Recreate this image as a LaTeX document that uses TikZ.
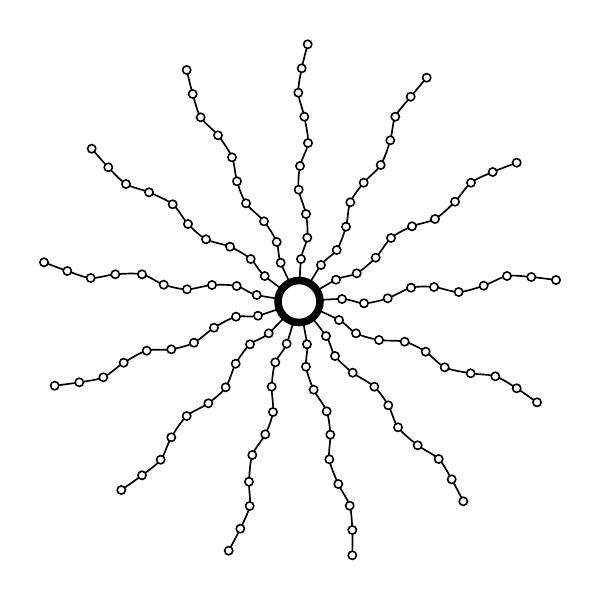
\documentclass[tikz,border=0pt]{standalone}
\usepackage{tikz}
\tikzset{
	chain/.style={line width=0.95pt, color=black},
	bead/.style={circle, draw=black, fill=white, line width=0.9pt, inner sep=0pt, minimum size=0.165cm},
	hub/.style={circle, draw=black, fill=white, line width=4.3pt, inner sep=0pt, minimum size=0.84cm}
}
\newcommand\polyarm[2]{%
	\foreach \x/\y [count=\i] in {#2} {\coordinate (#1\i) at (\x, \y);}
	\draw[chain] plot[smooth] coordinates {(core) (#11) (#12) (#13) (#14) (#15) (#16) (#17) (#18) (#19) (#110)};
	\foreach \i in {1,...,10} {\node[bead] (b#1\i) at (#1\i) {};}
}

\begin{document}
\begin{tikzpicture}[x=0.02cm, y=-0.02cm]
			%%%%% START %%%%%
			
			\useasboundingbox (0, 0) rectangle (600, 600);
			\coordinate (core) at (299, 301.5);
			
			\polyarm{A}{301/259, 307.3/237.7, 306/214, 298.7/189.7, 300/166, 308/143, 304.3/116.7, 298.3/92.7, 301.7/68.3, 307.7/44.3}
			\polyarm{B}{321/265, 336.7/250, 346/226.7, 350.3/202.3, 363.7/182.7, 380.7/165, 390.3/140.3, 395.3/116.7, 410.7/96.7, 426.7/77.7}
			\polyarm{C}{336/279.7, 356.7/273.3, 375.7/257.7, 391/238, 412/226.3, 435/219, 455/201.7, 471/182.7, 492.7/172, 516.7/162.7}
			\polyarm{D}{342/299, 364/303.3, 387.7/298.3, 411/287.7, 434/287, 458.7/292, 483.7/285.7, 507/276, 531.3/277, 556/280}
			\polyarm{E}{339/320, 356/333.3, 379/340, 404.7/341.7, 425.7/351.7, 444.7/367.3, 470.7/373.3, 495.3/376.3, 516.7/388.3, 537/402.3}
			\polyarm{F}{326/336, 335/356, 352.7/372.7, 374.3/386.7, 388.3/405.3, 398/427.3, 417.7/445.3, 438.7/459, 451.7/479.3, 463.3/501.3}
			\polyarm{G}{307/344.3, 306/366.7, 313.7/389.7, 326.7/411.3, 330.3/434.7, 329.3/459.3, 338.3/484, 349.7/505.7, 352.3/530, 352.3/555.3}
			\polyarm{H}{286.7/343.7, 275.3/362.3, 271.7/386.7, 273/412, 265.3/434.3, 252.3/455, 249/481.7, 249.7/506, 240.3/528.7, 228.7/550.7}
			\polyarm{I}{268.7/333.3, 250/344.3, 235.7/363.7, 225.7/387.3, 208.3/403.3, 186.7/416, 171.3/437.3, 160.7/459.7, 142/475.3, 121.3/490}
			\polyarm{J}{258/315.7, 236/316.7, 214/327.7, 194/342.7, 171.3/349.3, 146.7/350.7, 123.7/362.7, 103.3/377.3, 79.3/382.3, 54.7/385.7}
			\polyarm{K}{256.7/295, 236.7/286, 212/285, 187/289.3, 163.7/284.7, 142/274.3, 115.3/274.3, 90.7/278, 67.3/271, 44/262.3}
			\polyarm{L}{264.7/276, 250.7/259, 230/246.7, 206/239.3, 188/224, 172.7/204.3, 149/192.3, 126/184, 108.3/167.3, 91.7/148.7}
			\polyarm{M}{280.7/262.7, 276.7/242, 264/221.3, 246/203.3, 237/181.3, 232/157.3, 218/135.3, 200.7/117.3, 192.7/94, 186.7/70}
			
			\node[hub] (ring) at (core) {};
			
			%%%%% END %%%%%
		\end{tikzpicture}
\end{document}
